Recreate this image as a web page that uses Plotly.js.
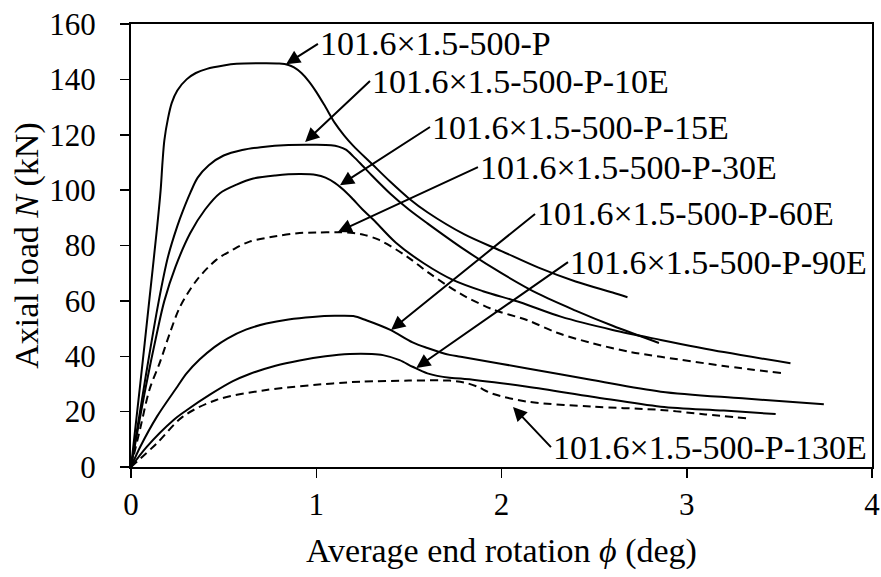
<!DOCTYPE html>
<html>
<head>
<meta charset="utf-8">
<script src="https://cdn.plot.ly/plotly-3.0.1.min.js"></script>
<style>html,body{margin:0;padding:0;background:#fff;}#chart{width:881px;height:577px;}</style>
</head>
<body>
<div id="chart"></div>
<script>
// Series data (rotation in deg, load in kN)
const pX = [0, 0.05, 0.1, 0.14, 0.16, 0.17, 0.18, 0.2, 0.22, 0.25, 0.3, 0.35, 0.41, 0.5, 0.57, 0.7, 0.8, 0.85, 0.88, 0.92, 0.96, 1.0, 1.05, 1.1, 1.15, 1.2, 1.3, 1.4, 1.5, 1.6, 1.8, 2.0, 2.2, 2.4, 2.6, 2.68];
const pY = [0, 30, 61, 86, 100, 110, 118, 126, 131.5, 136, 140, 142.3, 143.8, 145, 145.6, 145.8, 145.7, 145.2, 144.3, 142.3, 139.3, 135.5, 130, 124.3, 119.8, 116, 109.5, 103, 97, 92, 84, 78, 72, 67, 63, 61.3];

const e10X = [0, 0.08, 0.15, 0.2, 0.25, 0.28, 0.32, 0.36, 0.42, 0.5, 0.6, 0.7, 0.85, 1.0, 1.08, 1.12, 1.16, 1.2, 1.25, 1.3, 1.4, 1.5, 1.6, 1.8, 2.0, 2.2, 2.4, 2.6, 2.85];
const e10Y = [0, 33, 60, 76, 87, 92.5, 99, 104.5, 109, 112.5, 114.5, 115.5, 116.3, 116.4, 116.2, 115.7, 114.6, 112.2, 108.8, 105.3, 98.7, 93, 88, 78.5, 70, 62.5, 56.5, 51, 44.8];

const e15X = [0, 0.08, 0.14, 0.18, 0.24, 0.32, 0.4, 0.48, 0.57, 0.66, 0.78, 0.91, 1.0, 1.05, 1.1, 1.165, 1.2, 1.25, 1.31, 1.43, 1.58, 1.74, 1.9, 2.1, 2.32, 2.6, 2.86, 3.2, 3.56];
const e15Y = [0, 29, 48.4, 60, 72.3, 84.5, 93, 98.9, 102, 104.2, 105.3, 105.8, 105.5, 104.5, 102.6, 99, 96.6, 93, 89.2, 81, 73.6, 67.5, 63.5, 59.5, 54.3, 49.5, 45.9, 41.5, 37.5];

const e30X = [0, 0.05, 0.1, 0.157, 0.21, 0.265, 0.355, 0.46, 0.55, 0.64, 0.78, 0.91, 1.0, 1.11, 1.2, 1.25, 1.34, 1.49, 1.61, 1.78, 1.95, 2.14, 2.3, 2.49, 2.7, 2.86, 3.2, 3.51];
const e30Y = [0, 14, 28, 38, 48.4, 57.9, 67.5, 74.8, 78.5, 81.4, 83.3, 84.5, 84.7, 84.8, 84.5, 84, 82, 76, 70, 62.5, 57, 53, 48.5, 44.7, 41.5, 39.8, 36.5, 33.9];

const e60X = [0, 0.05, 0.14, 0.25, 0.3, 0.37, 0.45, 0.52, 0.62, 0.73, 0.85, 0.98, 1.1, 1.2, 1.27, 1.4, 1.52, 1.6, 1.72, 1.78, 2.14, 2.49, 2.86, 3.3, 3.74];
const e60Y = [0, 7.3, 18.2, 29, 33.8, 38.8, 43.3, 46.4, 49.6, 51.8, 53.3, 54.2, 54.6, 54.5, 53, 49.5, 45, 43, 40.5, 39.8, 35.6, 31.4, 27.2, 24.8, 22.7];

const e90X = [0, 0.085, 0.23, 0.3, 0.43, 0.55, 0.64, 0.78, 0.91, 1.05, 1.18, 1.3, 1.36, 1.45, 1.52, 1.6, 1.72, 1.78, 2.14, 2.49, 2.86, 3.2, 3.48];
const e90Y = [0, 7.3, 17, 20.5, 26.3, 31, 33.6, 36.6, 38.5, 40, 40.8, 40.8, 40.4, 38.6, 36.2, 33.8, 32.2, 32, 29, 25.4, 21.8, 20.4, 19.1];

const e130X = [0, 0.14, 0.28, 0.46, 0.73, 1.09, 1.24, 1.5, 1.72, 1.8, 1.87, 1.95, 2.14, 2.49, 2.86, 3.1, 3.32];
const e130Y = [0, 8.6, 18.2, 24.2, 27.8, 30.2, 30.8, 31.2, 31.2, 30.5, 29, 26.5, 23.6, 21.8, 20.6, 19, 17.6];

const seriesNames = ['101.6×1.5-500-P', '101.6×1.5-500-P-10E', '101.6×1.5-500-P-15E', '101.6×1.5-500-P-30E', '101.6×1.5-500-P-60E', '101.6×1.5-500-P-90E', '101.6×1.5-500-P-130E'];
const xTicks = [0, 1, 2, 3, 4];
const yTicks = [0, 20, 40, 60, 80, 100, 120, 140, 160];

// Label placement: [text x, text y, arrow head x, arrow head y] in data units
const labelPos = [
  [1.009, 152.8, 0.837, 145.5],
  [1.29, 139.4, 0.94, 117.4],
  [1.614, 122.8, 1.128, 101.8],
  [1.873, 108.3, 1.117, 84.9],
  [2.181, 91.4, 1.404, 49.5],
  [2.359, 74.0, 1.54, 35.8],
  [2.267, 7.2, 2.062, 21.7]
];

const allX = [pX, e10X, e15X, e30X, e60X, e90X, e130X];
const allY = [pY, e10Y, e15Y, e30Y, e60Y, e90Y, e130Y];
const dashes = ['solid', 'solid', 'solid', '8px,5px', 'solid', 'solid', '8px,5px'];

const traces = allX.map((xs, i) => ({
  x: xs, y: allY[i], type: 'scatter', mode: 'lines', name: seriesNames[i],
  line: {color: '#000', width: 2, dash: dashes[i], shape: 'spline', smoothing: 0.9},
  hoverinfo: 'skip'
}));

const fontFam = '"Liberation Serif", "Times New Roman", serif';
const annotations = labelPos.map((p, i) => ({
  x: p[2], y: p[3], xref: 'x', yref: 'y',
  ax: p[0], ay: p[1], axref: 'x', ayref: 'y',
  text: seriesNames[i], xanchor: 'left', yanchor: 'middle',
  showarrow: true, arrowhead: 2, arrowsize: 1.4, arrowwidth: 2, arrowcolor: '#000',
  font: {family: fontFam, size: 34, color: '#000'}
}));

const layout = {
  width: 881, height: 577,
  margin: {l: 131, r: 9, t: 24, b: 110},
  paper_bgcolor: '#fff', plot_bgcolor: '#fff',
  showlegend: false,
  font: {family: fontFam, color: '#000'},
  xaxis: {
    range: [0, 4], tickvals: xTicks, ticktext: xTicks.map(String),
    showgrid: false, zeroline: false, showline: true, linecolor: '#000', linewidth: 2, mirror: true,
    ticks: 'outside', ticklen: 9, tickwidth: 1.5, tickcolor: '#000',
    tickfont: {family: fontFam, size: 31, color: '#000'}, ticklabelstandoff: 0,
    title: {text: 'Average end rotation <i>ϕ</i> (deg)', font: {family: fontFam, size: 34, color: '#000'}, standoff: 17},
    automargin: false
  },
  yaxis: {
    range: [0, 160], tickvals: yTicks, ticktext: yTicks.map(String),
    showgrid: false, zeroline: false, showline: true, linecolor: '#000', linewidth: 2, mirror: true,
    ticks: 'outside', ticklen: 9, tickwidth: 1.5, tickcolor: '#000',
    tickfont: {family: fontFam, size: 31, color: '#000'}, ticklabelstandoff: 18,
    title: {text: 'Axial load <i>N</i> (kN)', font: {family: fontFam, size: 34, color: '#000'}, standoff: 0},
    automargin: false
  },
  annotations: annotations
};

Plotly.newPlot('chart', traces, layout, {staticPlot: true, displayModeBar: false});
</script>
</body>
</html>
